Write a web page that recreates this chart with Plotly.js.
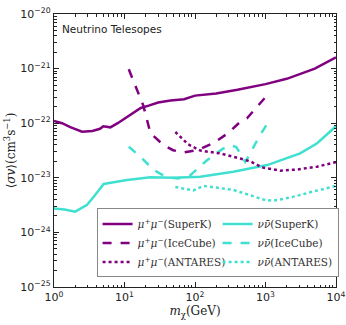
<!DOCTYPE html>
<html><head><meta charset="utf-8">
<script src="https://cdn.plot.ly/plotly-3.0.1.min.js"></script>
<style>body{margin:0;background:#fff}#c{width:346px;height:325px}</style>
</head><body><div id="c"></div>
<script>
// mu+mu- SuperK
const muSK_m = [1, 1.3, 1.7, 2.5, 3.5, 4.5, 5, 5.5, 6.3, 8, 10, 13, 17, 22, 30, 45, 70, 100, 200, 400, 1000, 2000, 3000, 5000, 10000];
const muSK_sv = [1.1e-22, 1.0e-22, 8.5e-23, 7.0e-23, 7.2e-23, 7.9e-23, 8.8e-23, 8.6e-23, 8.4e-23, 1.0e-22, 1.2e-22, 1.5e-22, 1.9e-22, 2.1e-22, 2.4e-22, 2.6e-22, 2.75e-22, 3.2e-22, 3.5e-22, 4.1e-22, 5.2e-22, 6.5e-22, 7.9e-22, 1.0e-21, 1.6e-21];
// mu+mu- IceCube
const muIC_m = [11.5, 18.5, 23.3, 35.5, 49, 68, 108, 181, 296, 438, 546, 755, 1023];
const muIC_sv = [9.7e-22, 2.1e-22, 6.6e-23, 4.0e-23, 3.2e-23, 2.9e-23, 3.2e-23, 4.3e-23, 6.6e-23, 1.06e-22, 1.23e-22, 1.94e-22, 3.1e-22];
// mu+mu- ANTARES
const muAN_m = [52.6, 80, 119, 228, 438, 607, 898, 1614, 2812, 5400, 10000];
const muAN_sv = [6.9e-23, 4.1e-23, 3.15e-23, 2.8e-23, 2.25e-23, 2.0e-23, 1.55e-23, 1.35e-23, 1.42e-23, 1.6e-23, 1.94e-23];
// nu nubar SuperK
const nuSK_m = [1, 1.41, 2.0, 2.95, 3.66, 5.07, 7.03, 10.9, 23.3, 49, 119, 349, 1057, 3100, 5400, 10000];
const nuSK_sv = [2.74e-24, 2.63e-24, 2.4e-24, 3.2e-24, 4.5e-24, 7.7e-24, 8.3e-24, 9.1e-24, 1.02e-23, 1.0e-23, 1.05e-23, 1.29e-23, 1.71e-23, 2.8e-23, 4.3e-23, 8.8e-23];
// nu nubar IceCube
const nuIC_m = [11.5, 16.8, 25.9, 40, 57, 86, 148, 244, 316, 385, 516, 607, 788, 1047];
const nuIC_sv = [3.7e-23, 2.44e-23, 1.39e-23, 1.02e-23, 9.7e-24, 1.12e-23, 2.1e-23, 3.35e-23, 3.96e-23, 3.65e-23, 1.96e-23, 2.8e-23, 5.3e-23, 9.6e-23];
// nu nubar ANTARES
const nuAN_m = [52.6, 73, 95, 132, 194, 349, 607, 927, 1285, 2240, 4740, 10000];
const nuAN_sv = [6.8e-24, 6.2e-24, 5.85e-24, 7.1e-24, 6.6e-24, 6.0e-24, 4.8e-24, 4.0e-24, 3.8e-24, 4.35e-24, 5.6e-24, 7.1e-24];

const names = {
  muSK: '<i>μ</i><sup>+</sup><i>μ</i><sup>−</sup>(SuperK)',
  muIC: '<i>μ</i><sup>+</sup><i>μ</i><sup>−</sup>(IceCube)',
  muAN: '<i>μ</i><sup>+</sup><i>μ</i><sup>−</sup>(ANTARES)',
  nuSK: '<i>ν</i><i>ν̄</i>(SuperK)',
  nuIC: '<i>ν</i><i>ν̄</i>(IceCube)',
  nuAN: '<i>ν</i><i>ν̄</i>(ANTARES)'
};
const PURPLE = '#800080', CYAN = '#40e0d0';
function tr(x, y, name, color, dash) {
  return {x: x, y: y, name: name, type: 'scatter', mode: 'lines',
    line: {color: color, width: 2.5, dash: dash}};
}
const data = [
  tr(muSK_m, muSK_sv, names.muSK, PURPLE, 'solid'),
  tr(nuSK_m, nuSK_sv, names.nuSK, CYAN, 'solid'),
  tr(muIC_m, muIC_sv, names.muIC, PURPLE, 'dash'),
  tr(nuIC_m, nuIC_sv, names.nuIC, CYAN, 'dash'),
  tr(muAN_m, muAN_sv, names.muAN, PURPLE, 'dot'),
  tr(nuAN_m, nuAN_sv, names.nuAN, CYAN, 'dot')
];
function decades(a, b) { const v = []; for (let e = a; e <= b; e++) v.push(Math.pow(10, e)); return v; }
function minors(a, b) { const v = []; for (let e = a; e < b; e++) for (let k = 2; k <= 9; k++) v.push(k * Math.pow(10, e)); return v; }
const xTickVals = decades(0, 4);
const xTickText = ['10<sup>0</sup>', '10<sup>1</sup>', '10<sup>2</sup>', '10<sup>3</sup>', '10<sup>4</sup>'];
const yTickVals = decades(-25, -20);
const yTickText = ['10<sup>−25</sup>', '10<sup>−24</sup>', '10<sup>−23</sup>', '10<sup>−22</sup>', '10<sup>−21</sup>', '10<sup>−20</sup>'];
const layout = {
  width: 346, height: 325,
  margin: {l: 54, r: 10, t: 13.5, b: 37.5, autoexpand: false},
  paper_bgcolor: '#fff', plot_bgcolor: '#fff',
  showlegend: true,
  font: {family: 'DejaVu Sans', size: 11, color: '#222'},
  xaxis: {type: 'log', range: [0, 4], tickvals: xTickVals, ticktext: xTickText,
    ticks: 'inside', ticklen: 5, tickwidth: 1, tickcolor: '#222', mirror: 'ticks',
    showline: true, linecolor: '#222', linewidth: 1.2, showgrid: false, zeroline: false,
    minor: {tickmode: 'array', tickvals: minors(0, 4), ticks: 'inside', ticklen: 2.5, tickcolor: '#222', showgrid: false},
    title: {text: '<i>m</i><sub>χ</sub>(GeV)', font: {family: 'DejaVu Serif', size: 12}, standoff: 3}},
  yaxis: {type: 'log', range: [-25, -20], tickvals: yTickVals, ticktext: yTickText,
    ticks: 'inside', ticklen: 5, tickwidth: 1, tickcolor: '#222', mirror: 'ticks',
    showline: true, linecolor: '#222', linewidth: 1.2, showgrid: false, zeroline: false,
    minor: {tickmode: 'array', tickvals: minors(-25, -20), ticks: 'inside', ticklen: 2.5, tickcolor: '#222', showgrid: false},
    title: {text: '⟨<i>σv</i>⟩(cm<sup>3</sup>s<sup>−1</sup>)', font: {family: 'DejaVu Serif', size: 12}, standoff: 2}},
  legend: {orientation: 'h', x: 0.151, y: 0.288, xanchor: 'left', yanchor: 'top',
    entrywidth: 75, entrywidthmode: 'pixels', tracegroupgap: 0, itemwidth: 30,
    bgcolor: '#fff', bordercolor: '#888', borderwidth: 1,
    font: {family: 'DejaVu Serif', size: 10.5, color: '#333'}},
  annotations: [{text: 'Neutrino Telesopes', xref: 'paper', yref: 'paper', x: 0.02, y: 0.975,
    xanchor: 'left', yanchor: 'top', showarrow: false, font: {family: 'DejaVu Sans', size: 10.5, color: '#222'}}]
};
Plotly.newPlot('c', data, layout, {displayModeBar: false, staticPlot: true});
</script></body></html>
